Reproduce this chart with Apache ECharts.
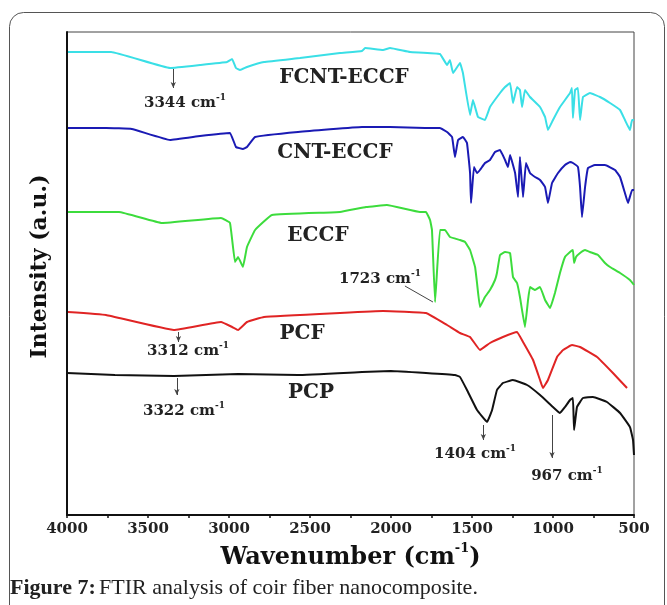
<!DOCTYPE html>
<html>
<head>
<meta charset="utf-8">
<script src="https://cdn.jsdelivr.net/npm/echarts@6/dist/echarts.min.js"></script>
<style>
  html, body { margin: 0; padding: 0; background: #fff; }
  #chart { width: 667px; height: 605px; }
</style>
</head>
<body>
<div id="chart"></div>
<script>
// spectra: [wavenumber, intensity (a.u., stacked)]
var fcntEccf = [[3994,463],[3728,463],[3364,447],[3179,450],[3012,453],[2981,456],[2957,447],[2932,445],[2889,448],[2784,453],[2562,457],[2315,462],[2179,464],[2160,467],[2049,465],[2006,467],[1883,463],[1698,461],[1654,450],[1636,455],[1617,442],[1574,452],[1556,442],[1512,400],[1494,415],[1463,398],[1420,395],[1389,408],[1327,422],[1296,428],[1265,432],[1247,412],[1222,428],[1204,425],[1191,408],[1173,425],[1142,418],[1080,408],[1049,398],[1031,385],[1000,395],[957,408],[895,422],[883,427],[877,397],[864,425],[846,427],[833,395],[815,418],[772,422],[710,418],[648,412],[586,405],[556,395],[525,385],[512,395],[500,395]];
var cntEccf = [[3994,387],[3759,387],[3600,386],[3364,375],[3179,379],[2994,382],[2957,368],[2914,366],[2889,368],[2839,378],[2574,383],[2179,388],[2006,388],[1790,387],[1698,387],[1654,383],[1623,378],[1605,358],[1586,375],[1556,378],[1531,372],[1512,342],[1506,312],[1488,348],[1469,342],[1451,345],[1420,352],[1389,355],[1358,363],[1327,365],[1296,355],[1278,348],[1265,360],[1234,342],[1216,318],[1204,358],[1185,318],[1167,352],[1142,342],[1111,338],[1080,335],[1049,328],[1031,312],[1006,332],[969,342],[926,350],[895,353],[877,352],[846,348],[833,328],[821,298],[802,328],[784,347],[741,350],[679,350],[617,345],[586,338],[556,322],[537,312],[512,325],[500,325]];
var eccf = [[3994,303],[3679,303],[3414,292],[3049,297],[2994,292],[2963,253],[2944,258],[2914,248],[2889,268],[2839,285],[2735,300],[2315,303],[2154,308],[2025,310],[1821,303],[1784,303],[1759,295],[1747,285],[1728,213],[1698,285],[1667,285],[1636,278],[1574,275],[1543,273],[1512,265],[1481,248],[1469,232],[1451,208],[1420,218],[1389,225],[1358,235],[1346,242],[1327,260],[1296,263],[1265,262],[1247,238],[1222,232],[1204,218],[1173,188],[1154,215],[1142,228],[1111,225],[1080,228],[1049,215],[1018,207],[988,222],[957,242],[926,258],[895,263],[877,265],[870,252],[858,258],[833,262],[802,265],[772,263],[722,260],[679,252],[648,248],[586,242],[525,235],[500,230]];
var pcf = [[3994,203],[3759,200],[3340,185],[3049,193],[2981,188],[2944,185],[2889,193],[2784,198],[2315,202],[2049,204],[1784,202],[1654,190],[1574,182],[1512,178],[1451,165],[1389,172],[1309,178],[1222,183],[1185,173],[1123,155],[1080,135],[1062,127],[1031,135],[975,158],[938,165],[883,170],[833,168],[728,158],[630,142],[543,127]];
var pcp = [[4000,142],[3704,140],[3340,139],[2944,141],[2574,140],[2179,143],[2000,144],[1784,142],[1605,140],[1574,138],[1531,125],[1469,105],[1407,93],[1376,105],[1346,125],[1309,132],[1247,135],[1160,130],[1080,120],[1000,108],[957,102],[926,108],[895,115],[877,117],[870,85],[852,108],[815,117],[753,118],[667,113],[586,102],[525,88],[506,75],[500,60]];

var xTicks = [4000, 3500, 3000, 2500, 2000, 1500, 1000, 500];

// labels: [text, wavenumber, intensity]
var seriesNames = ['FCNT-ECCF', 'CNT-ECCF', 'ECCF', 'PCF', 'PCP'];
var nameSpots = [[2290,438],[2346,363],[2451,280],[2549,182],[2494,123]];
var peakText = ['3344', '3312', '3322', '1723', '1404', '967'];
var peakSpots = [[3272,413],[3253,165],[3278,105],[2068,237],[1481,62],[914,40]];
// leader lines: [from, to]
var peakLines = [
  [[3344,446],[3344,427]],
  [[3312,183],[3312,173]],
  [[3322,137],[3322,120]],
  [[1741,213],[1914,229]],
  [[1430,90],[1430,75]],
  [[1006,100],[1006,57]]
];
var peakOwner = [0, 3, 4, 2, 4, 4];
var colors = ['#3adfe6', '#1a1ab4', '#3cdc3c', '#e02424', '#111111'];
var allData = [fcntEccf, cntEccf, eccf, pcf, pcp];

var serif = 'DejaVu Serif';

var chart = echarts.init(document.getElementById('chart'));

var series = allData.map(function(d, i){
  var points = [{
    coord: nameSpots[i],
    value: seriesNames[i],
    label: { formatter: '{n|' + seriesNames[i] + '}' }
  }];
  var lines = [];
  peakOwner.forEach(function(o, k){
    if(o !== i) return;
    points.push({
      coord: peakSpots[k],
      label: { formatter: '{p|' + peakText[k] + ' cm}{s|-1}' }
    });
    lines.push([{coord: peakLines[k][0]}, {coord: peakLines[k][1]}]);
  });
  return {
    name: seriesNames[i],
    type: 'line',
    data: d,
    showSymbol: false,
    smooth: 0.08,
    lineStyle: { color: colors[i], width: 2 },
    itemStyle: { color: colors[i] },
    markPoint: {
      silent: true,
      symbol: 'rect',
      symbolSize: 1,
      itemStyle: { color: 'rgba(0,0,0,0)' },
      label: {
        show: true,
        position: 'inside',
        color: '#222',
        rich: {
          n: { fontFamily: serif, fontWeight: 'bold', fontSize: 20, color: '#222', lineHeight: 22, verticalAlign: 'bottom' },
          p: { fontFamily: serif, fontWeight: 'bold', fontSize: 15, color: '#222', lineHeight: 18, verticalAlign: 'bottom' },
          s: { fontFamily: serif, fontWeight: 'bold', fontSize: 9, color: '#222', lineHeight: 18, verticalAlign: 'top' }
        }
      },
      data: points
    },
    markLine: {
      silent: true,
      symbol: ['none', 'arrow'],
      symbolSize: [4, 6],
      lineStyle: { color: '#444', width: 1, type: 'solid' },
      label: { show: false },
      data: lines
    }
  };
});
// the 1723 leader is a plain line
series[2].markLine.symbol = ['none', 'none'];

var option = {
  animation: false,
  backgroundColor: '#fff',
  grid: { left: 67, right: 33, top: 32, bottom: 90, show: true, borderColor: '#444', borderWidth: 1 },
  xAxis: {
    type: 'value',
    min: 500,
    max: 4000,
    interval: 500,
    inverse: true,
    name: '{a|Wavenumber (cm}{s|-1}{a|)}',
    nameLocation: 'middle',
    nameGap: 22,
    nameTextStyle: {
      rich: {
        a: { fontFamily: serif, fontWeight: 'bold', fontSize: 24, color: '#111', lineHeight: 28, verticalAlign: 'bottom' },
        s: { fontFamily: serif, fontWeight: 'bold', fontSize: 13, color: '#111', lineHeight: 28, verticalAlign: 'top' }
      }
    },
    axisLine: { lineStyle: { color: '#111', width: 2 } },
    axisTick: { show: true, length: 3, lineStyle: { color: '#111', width: 1.5 } },
    minorTick: { show: true, splitNumber: 2, length: 3, lineStyle: { color: '#111', width: 1.5 } },
    splitLine: { show: false },
    axisLabel: {
      margin: 7,
      color: '#222',
      fontFamily: serif,
      fontWeight: 'bold',
      fontSize: 15,
      formatter: function(v){ return xTicks.indexOf(v) >= 0 ? String(v) : ''; }
    }
  },
  yAxis: {
    type: 'value',
    min: 0,
    max: 483,
    name: 'Intensity (a.u.)',
    nameLocation: 'middle',
    nameGap: 16,
    nameTextStyle: { fontFamily: serif, fontWeight: 'bold', fontSize: 22, color: '#111', padding: [0, 0, 0, 14] },
    axisLine: { show: true, lineStyle: { color: '#111', width: 2 } },
    axisTick: { show: false },
    axisLabel: { show: false },
    splitLine: { show: false }
  },
  graphic: [
    {
      type: 'rect',
      silent: true,
      shape: { x: 9.5, y: 12.5, width: 655, height: 640, r: 14 },
      style: { fill: 'none', stroke: '#555', lineWidth: 1 }
    },
    {
      type: 'text',
      left: 10,
      top: 577,
      silent: true,
      style: {
        text: '{b|Figure 7:} {r|FTIR analysis of coir fiber nanocomposite.}',
        rich: {
          b: { fontFamily: 'Liberation Serif', fontWeight: 'bold', fontSize: 22, fill: '#222' },
          r: { fontFamily: 'Liberation Serif', fontSize: 22, fill: '#222' }
        }
      }
    }
  ],
  series: series
};

chart.setOption(option);
</script>
</body>
</html>
